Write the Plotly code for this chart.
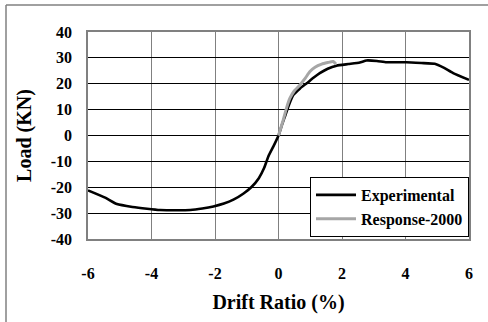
import plotly.graph_objects as go

# Load-drift envelope, measured
exp_drift = [-6.0, -5.46, -5.09, -4.6, -4.14, -3.73, -3.2, -2.78, -2.4, -2.05, -1.72, -1.42,
             -1.1, -0.85, -0.62, -0.45, -0.32, -0.16, 0.0, 0.1, 0.2, 0.32, 0.47, 0.68, 0.89,
             1.1, 1.3, 1.55, 1.83, 2.2, 2.56, 2.77, 3.1, 3.4, 4.03, 4.5, 4.92, 5.2, 5.5, 6.0]
exp_load = [-21.2, -24.0, -26.5, -27.6, -28.3, -28.8, -28.9, -28.8, -28.2, -27.4, -26.3, -24.8,
            -22.4, -19.9, -16.5, -12.5, -8.1, -4.2, 0.0, 3.8, 7.3, 11.5, 15.7, 18.2, 20.2,
            22.3, 24.1, 25.8, 27.0, 27.6, 28.2, 29.0, 28.8, 28.3, 28.3, 28.0, 27.7, 26.2, 24.1, 21.5]

# Predicted response
r2k_drift = [0.0, 0.15, 0.25, 0.36, 0.5, 0.68, 0.85, 0.99, 1.15, 1.36, 1.55, 1.72, 1.81]
r2k_load = [0.0, 6.0, 10.5, 14.4, 17.3, 19.6, 22.3, 24.7, 26.4, 27.6, 28.2, 28.6, 27.6]

x_ticks = [-6, -4, -2, 0, 2, 4, 6]
y_ticks = [-40, -30, -20, -10, 0, 10, 20, 30, 40]

serif = "Liberation Serif"

fig = go.Figure()
fig.add_trace(go.Scatter(
    x=exp_drift, y=exp_load, mode="lines", name="Experimental",
    line=dict(color="#000000", width=2.6, shape="spline", smoothing=0.4),
))
fig.add_trace(go.Scatter(
    x=r2k_drift, y=r2k_load, mode="lines", name="Response-2000",
    line=dict(color="#a6a6a6", width=3, shape="spline", smoothing=0.4),
))

fig.update_layout(
    width=488, height=322,
    margin=dict(l=88, r=19, t=32, b=83),
    paper_bgcolor="white", plot_bgcolor="white",
    font=dict(family=serif, color="black"),
    showlegend=True,
    legend=dict(
        x=1, y=0.01, xanchor="right", yanchor="bottom",
        bgcolor="white", bordercolor="black", borderwidth=1,
        font=dict(family=serif, size=16, color="black", weight="bold"),
        itemwidth=40, tracegroupgap=0,
    ),
    xaxis=dict(
        range=[-6, 6], tickvals=x_ticks, ticktext=[str(v) for v in x_ticks],
        showgrid=True, gridcolor="#808080", gridwidth=1.2,
        zeroline=False, showline=True, linecolor="#808080", linewidth=1.5, mirror=True,
        ticks="outside", ticklen=19, tickcolor="rgba(0,0,0,0)",
        tickfont=dict(family=serif, size=16, weight="bold"),
        title=dict(text="Drift Ratio (%)", font=dict(family=serif, size=20, weight="bold"), standoff=14),
    ),
    yaxis=dict(
        range=[-40, 40], tickvals=y_ticks, ticktext=[str(v) for v in y_ticks],
        showgrid=True, gridcolor="#000000", gridwidth=1,
        zeroline=False, showline=True, linecolor="#808080", linewidth=1.5, mirror=True,
        ticks="outside", ticklen=11, tickcolor="rgba(0,0,0,0)",
        tickfont=dict(family=serif, size=16, weight="bold"),
        title=dict(text="Load (KN)", font=dict(family=serif, size=20, weight="bold"), standoff=14),
    ),
    shapes=[
        # outer chart frame (top and left edges)
        dict(type="line", xref="paper", yref="paper", x0=-82 / 381, x1=1.2, y0=1 + 27 / 207, y1=1 + 27 / 207,
             line=dict(color="#808080", width=1.5)),
        dict(type="line", xref="paper", yref="paper", x0=-82 / 381, x1=-82 / 381, y0=1 + 27 / 207, y1=-0.5,
             line=dict(color="#808080", width=1.5)),
    ],
)

fig.write_html("out.html")
